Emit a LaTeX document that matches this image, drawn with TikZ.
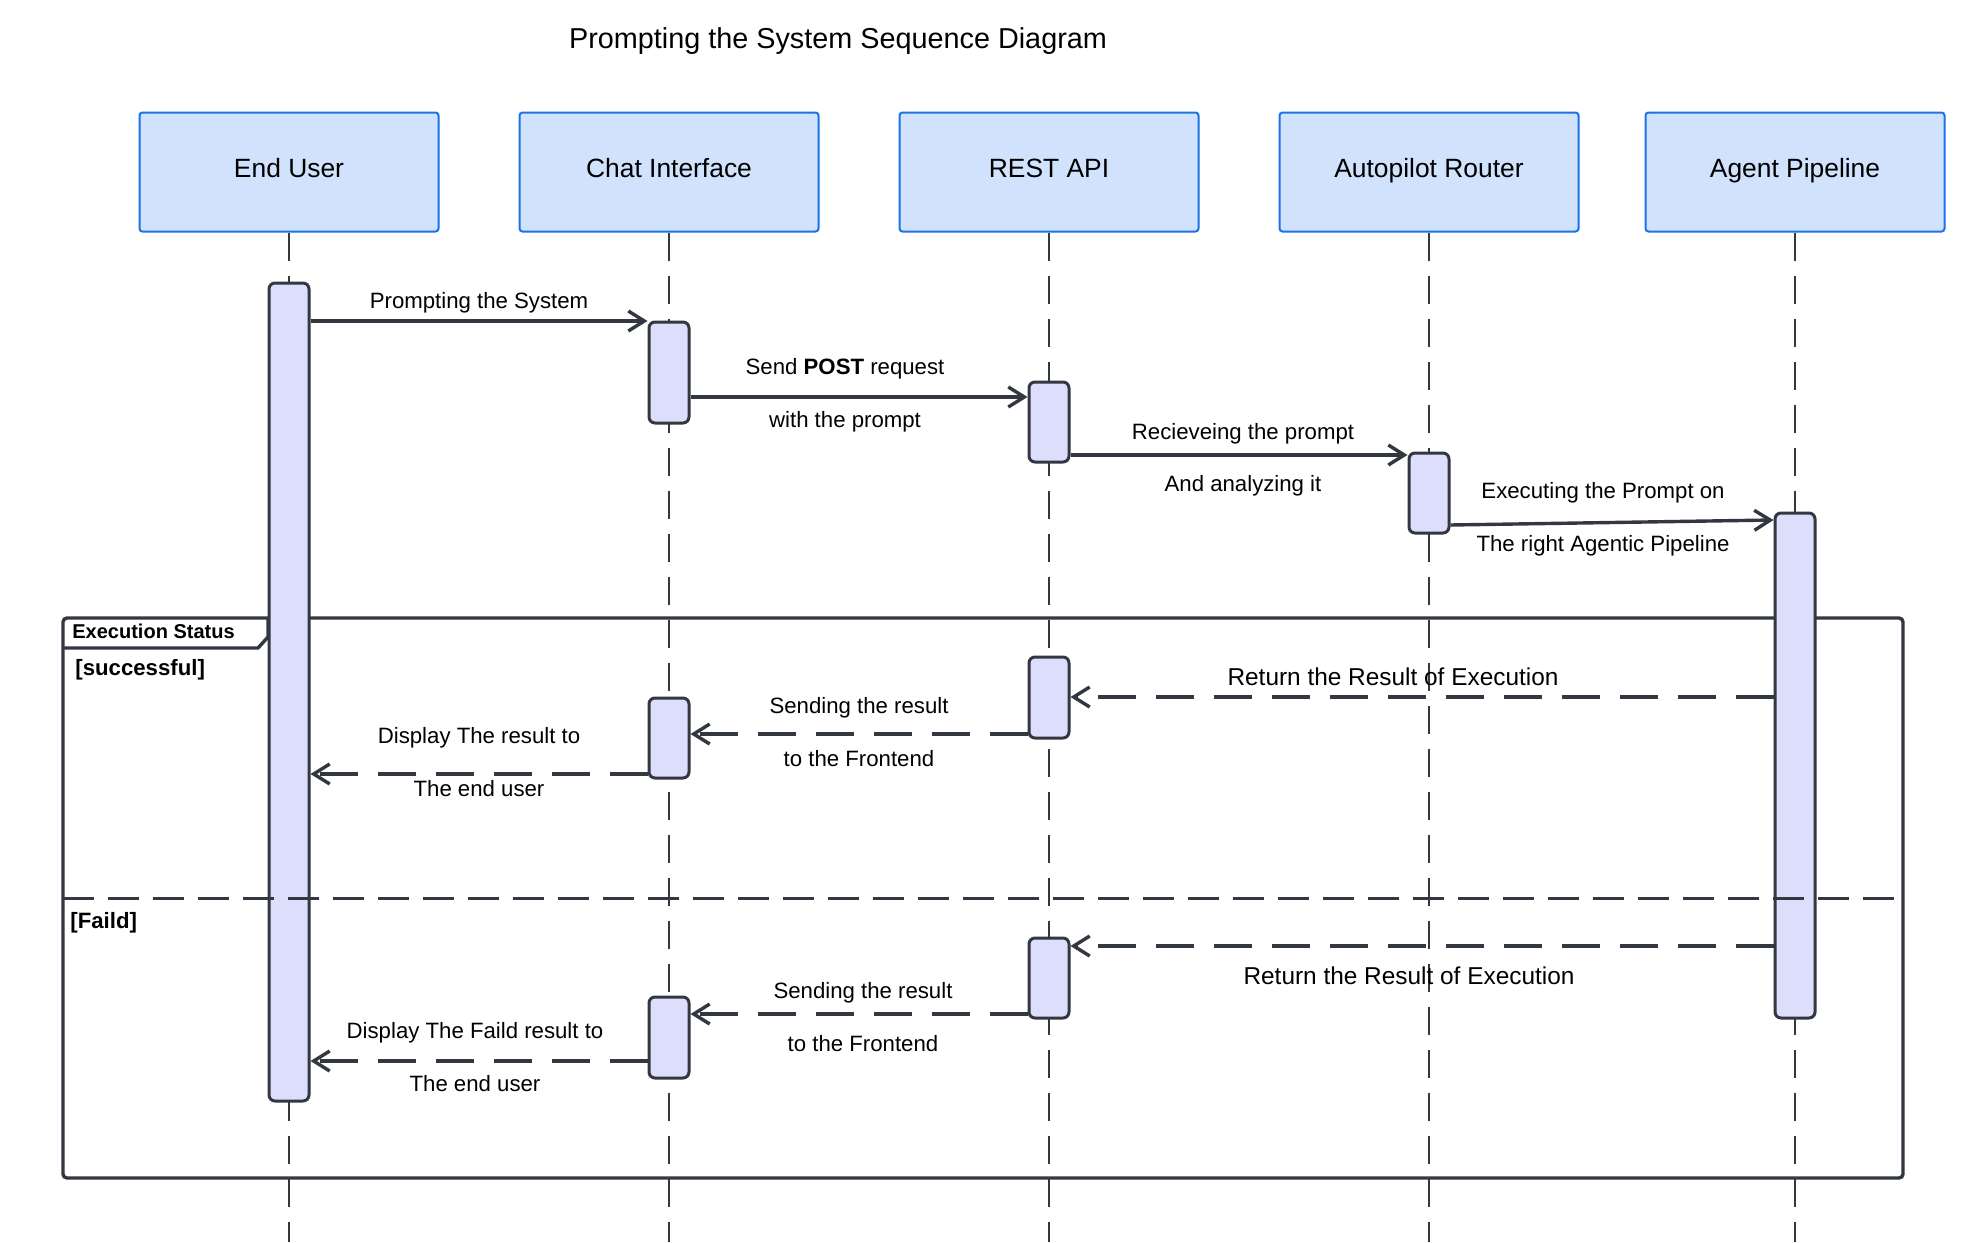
\documentclass[tikz,border=0pt]{standalone}
\usepackage{fontspec}
\setmainfont{Liberation Sans}
\usetikzlibrary{arrows.meta}
\definecolor{actorfill}{RGB}{208,226,252}
\definecolor{actorblue}{RGB}{26,115,232}
\definecolor{barfill}{RGB}{221,221,252}
\definecolor{linegray}{RGB}{50,55,64}
\tikzset{
  actor/.style={draw=actorblue, fill=actorfill, line width=1pt, rounded corners=1.5pt,
    minimum width=149.5pt, minimum height=59.5pt, inner sep=0pt,
    font=\fontsize{13.2}{16}\selectfont, text height=0.75em, text depth=0.25em},
  lifeline/.style={draw=linegray, line width=1.3pt, dash pattern=on 14pt off 7.5pt},
  bar/.style={draw=linegray, fill=barfill, line width=1.5pt, rounded corners=3pt,
    minimum width=20pt, inner sep=0pt},
  msg/.style={draw=linegray, line width=1.7pt, -{Straight Barb[length=8pt,width=10pt]}},
  reply/.style={msg, dash pattern=on 19pt off 10pt},
  lbl/.style={inner sep=0pt, yshift=-1.3pt, font=\fontsize{11.1}{13}\selectfont, text height=0.75em, text depth=0.25em},
  biglbl/.style={lbl, font=\fontsize{12.2}{14}\selectfont},
  guard/.style={inner sep=0pt, anchor=west, font=\bfseries\fontsize{11.1}{13}\selectfont}
}
\begin{document}
\begin{tikzpicture}[x=0.5pt, y=-0.5pt]

        \path[fill=white, use as bounding box] (0,0) rectangle (1980,1242);

        \node[font=\fontsize{14.4}{17}\selectfont] (title) at (838,41) {Prompting the System Sequence Diagram};

        \node[actor] (user) at (289,172) {End User};
        \node[actor] (chat) at (669,172) {Chat Interface};
        \node[actor] (api) at (1049,172) {REST API};
        \node[actor] (router) at (1429,172) {Autopilot Router};
        \node[actor] (pipe) at (1795,172) {Agent Pipeline};

        \foreach \who in {user,chat,api,router,pipe}
          \draw[lifeline] (\who.south) -- (\who.south |- 0,1242);

        \draw[linegray, line width=1.7pt, rounded corners=2pt] (63,618) rectangle (1903,1178);
        \draw[linegray, line width=1.7pt] (63,648) -- (258,648) -- (268,637) -- (268,618);
        \node[guard, font=\bfseries\fontsize{10}{12}\selectfont] (frametitle) at (72,631) {Execution Status};
        \node[guard] (okguard) at (75,670) {[successful]};
        \node[guard] (failguard) at (70,923) {[Faild]};

        \node[bar, minimum height=409pt] (userbar) at (289,692) {};
        \node[bar, minimum height=50.5pt] (chatbarA) at (669,372.5) {};
        \node[bar, minimum height=40pt] (apibarA) at (1049,422) {};
        \node[bar, minimum height=40pt] (routerbar) at (1429,493) {};
        \node[bar, minimum height=252.5pt] (pipebar) at (1795,765.5) {};
        \node[bar, minimum height=40.5pt] (apibarB) at (1049,697.5) {};
        \node[bar, minimum height=40pt] (chatbarB) at (669,738) {};
        \node[bar, minimum height=40pt] (apibarC) at (1049,978) {};
        \node[bar, minimum height=40.5pt] (chatbarC) at (669,1037.5) {};

        \draw[linegray, line width=1.7pt, dash pattern=on 15.5pt off 7pt] (63,898.5) -- (1906,898.5);

        \draw[msg] (userbar.east |- 0,321) -- (chatbarA.west |- 0,321);
        \draw[msg] (chatbarA.east |- 0,397) -- (apibarA.west |- 0,397);
        \draw[msg] (apibarA.east |- 0,455) -- (routerbar.west |- 0,455);
        \draw[msg] (routerbar.east |- 0,525) -- (pipebar.west |- 0,520);
        \draw[reply] (pipebar.west |- 0,697) -- (apibarB.east |- 0,697);
        \draw[reply] (apibarB.west |- 0,734) -- (chatbarB.east |- 0,734);
        \draw[reply] (chatbarB.west |- 0,774) -- (userbar.east |- 0,774);
        \draw[reply] (pipebar.west |- 0,946) -- (apibarC.east |- 0,946);
        \draw[reply] (apibarC.west |- 0,1014) -- (chatbarC.east |- 0,1014);
        \draw[reply] (chatbarC.west |- 0,1061) -- (userbar.east |- 0,1061);

        \node[lbl] (prompt) at (479,301) {Prompting the System};
        \node[lbl] (postA) at (845,367) {Send \textbf{POST} request};
        \node[lbl] (postB) at (845,420) {with the prompt};
        \node[lbl] (routeA) at (1243,432) {Recieveing the prompt};
        \node[lbl] (routeB) at (1243,484) {And analyzing it};
        \node[lbl] (execA) at (1603,491) {Executing the Prompt on};
        \node[lbl] (execB) at (1603,544) {The right Agentic Pipeline};
        \node[biglbl] (okresult) at (1393,678) {Return the Result of Execution};
        \node[lbl] (oksendA) at (859,706) {Sending the result};
        \node[lbl] (oksendB) at (859,759) {to the Frontend};
        \node[lbl] (okshowA) at (479,736) {Display The result to};
        \node[lbl] (okshowB) at (479,789) {The end user};
        \node[biglbl] (failresult) at (1409,977) {Return the Result of Execution};
        \node[lbl] (failsendA) at (863,991) {Sending the result};
        \node[lbl] (failsendB) at (863,1044) {to the Frontend};
        \node[lbl] (failshowA) at (475,1031) {Display The Faild result to};
        \node[lbl] (failshowB) at (475,1084) {The end user};

\end{tikzpicture}
\end{document}
